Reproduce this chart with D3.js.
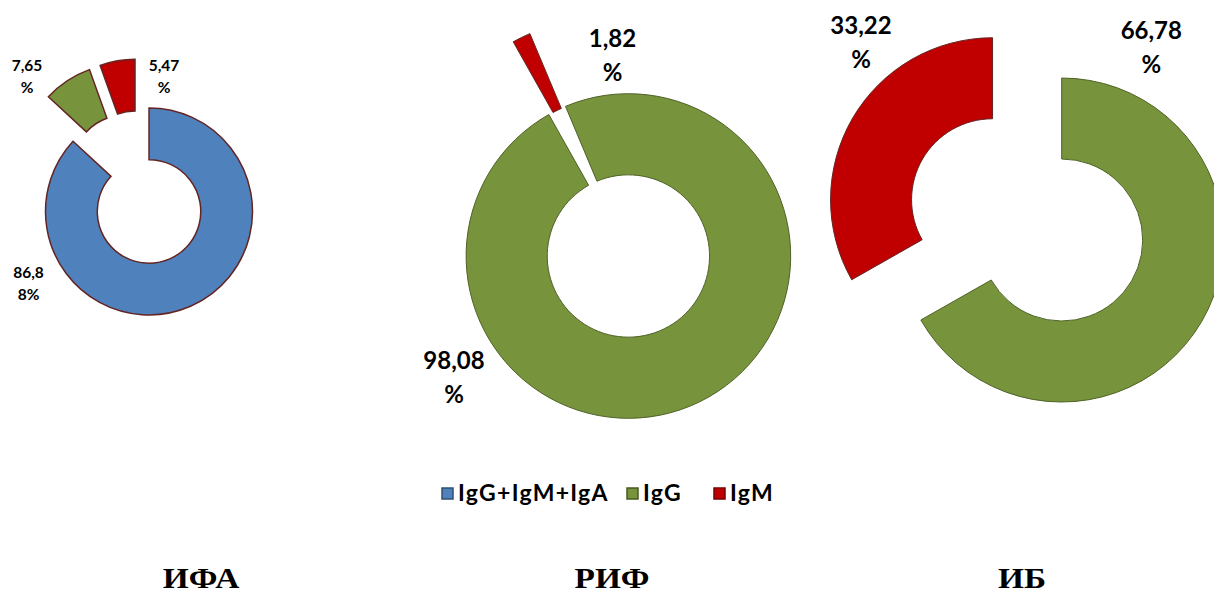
<!DOCTYPE html>
<html>
<head>
<meta charset="utf-8">
<script src="https://cdn.jsdelivr.net/npm/d3@7"></script>
<style>
  body { margin: 0; background: #fff; }
  svg { display: block; }
</style>
</head>
<body>
<svg id="chart" width="1214" height="594"></svg>
<script>
const categories = ["IgG+IgM+IgA", "IgG", "IgM"];
const methods = ["ИФА", "РИФ", "ИБ"];

const ifaValues = [86.88, 7.65, 5.47];
const rifValues = [0, 98.08, 1.82];
const ibValues = [0, 66.78, 33.22];

// label text as it wraps in the original
const ifaLabels = [["86,8", "8%"], ["7,65", "%"], ["5,47", "%"]];
const rifLabels = [null, ["98,08", "%"], ["1,82", "%"]];
const ibLabels = [null, ["66,78", "%"], ["33,22", "%"]];

const COLORS = ["#4f81bd", "#77933c", "#c00000"];
const EDGE = ["#632523", "#4f6228", "#632523"];
const LEGEND_X = [442, 627, 714];

const charts = [
  {
    values: ifaValues, labels: ifaLabels, title: methods[0],
    cx: 139.8, cy: 190.4, r: 103.5, start: 0,
    explode: [23, 28, 28], edge: ["#632523", "#632523", "#632523"], edgeWidth: 1.5,
    fontSize: 15.5, lineHeight: 22,
    labelPos: [[28.5, 272], [27, 65], [164, 65]],
    titleX: 201,
  },
  {
    values: rifValues, labels: rifLabels, title: methods[1],
    cx: 628.4, cy: 256, r: 162.3, start: 337.2,
    explode: [0, 0, 81], edge: EDGE, edgeWidth: 1,
    fontSize: 24, lineHeight: 34,
    labelPos: [null, [454, 360], [612.5, 38]],
    titleX: 612,
  },
  {
    values: ibValues, labels: ibLabels, title: methods[2],
    cx: 1061.7, cy: 240, r: 162, start: 0,
    explode: [0, 0, 80], edge: EDGE, edgeWidth: 1,
    fontSize: 24, lineHeight: 34,
    labelPos: [null, [1151.3, 30], [861, 25]],
    titleX: 1022,
  },
];

const svg = d3.select("#chart");
const rad = (deg) => (deg * Math.PI) / 180;

charts.forEach((c) => {
  const g = svg.append("g");

  const pie = d3
    .pie()
    .sort(null)
    .value((d) => d)
    .startAngle(rad(c.start))
    .endAngle(rad(c.start) + 2 * Math.PI);

  const arc = d3.arc().innerRadius(c.r * 0.5).outerRadius(c.r);

  const slices = pie(c.values).filter((d) => d.value > 0);

  g.selectAll("path")
    .data(slices)
    .enter()
    .append("path")
    .attr("d", arc)
    .attr("transform", (d) => {
      const mid = (d.startAngle + d.endAngle) / 2;
      const e = c.explode[d.index];
      return `translate(${c.cx + Math.sin(mid) * e}, ${c.cy - Math.cos(mid) * e})`;
    })
    .attr("fill", (d) => COLORS[d.index])
    .attr("stroke", (d) => c.edge[d.index])
    .attr("stroke-width", c.edgeWidth);

  // data labels
  c.labels.forEach((lines, i) => {
    if (!lines) return;
    const [x, y] = c.labelPos[i];
    const t = g
      .append("text")
      .attr("text-anchor", "middle")
      .style("font-family", "Lato, 'Open Sans', sans-serif")
      .style("font-weight", "bold")
      .style("font-size", c.fontSize + "px")
      .attr("fill", "#000");
    lines.forEach((line, k) => {
      t.append("tspan")
        .attr("x", x)
        .attr("y", y + k * c.lineHeight + c.fontSize * 0.36)
        .text(line);
    });
  });

  // method caption under each chart
  svg
    .append("text")
    .attr("transform", `translate(${c.titleX}, 588) scale(1.15, 1)`)
    .attr("text-anchor", "middle")
    .style("font-family", "'Liberation Serif', 'Times New Roman', serif")
    .style("font-weight", "bold")
    .style("font-size", "29px")
    .text(c.title);
});

// legend
const items = svg
  .append("g")
  .selectAll("g")
  .data(categories)
  .enter()
  .append("g")
  .attr("transform", (d, i) => `translate(${LEGEND_X[i]}, 499)`);

items
  .append("rect")
  .attr("width", 11)
  .attr("height", 11)
  .attr("y", -11)
  .attr("fill", (d, i) => COLORS[i])
  .attr("stroke", (d, i) => d3.color(COLORS[i]).darker(1.4))
  .attr("stroke-width", 1.5);

items
  .append("text")
  .attr("x", 16)
  .attr("y", 1.5)
  .style("font-family", "Lato, 'Open Sans', sans-serif")
  .style("font-weight", "bold")
  .style("font-size", "23px")
  .style("letter-spacing", "1.3px")
  .text((d) => d);
</script>
</body>
</html>
